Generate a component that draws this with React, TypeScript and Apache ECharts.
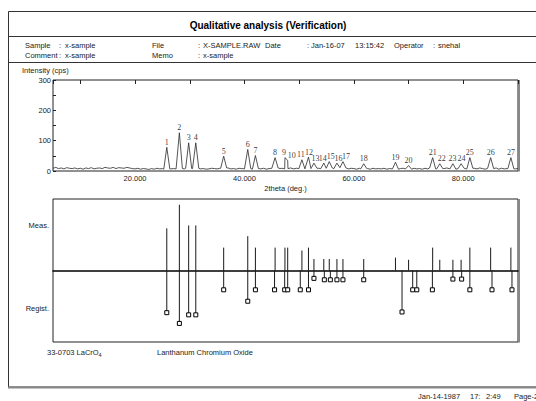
import React, { useEffect, useRef } from 'react';
import * as echarts from 'echarts';

// ---- data ----
const baselineStart = 5;
const baselineStep = 0.5;
const baselineCps = [
  9, 12, 8, 10, 7, 11, 9, 8, 10, 7,
  9, 6, 10, 8, 11, 7, 9, 10, 8, 12,
  10, 9, 12, 8, 11, 10, 9, 12, 10, 8,
  7, 9, 6, 8, 7, 5, 8, 6, 9, 7,
  8, 6, 9, 7, 8, 7, 6, 8, 7, 9,
  7, 8, 6, 9, 7, 8, 6, 7, 9, 8,
  7, 9, 6, 8, 10, 7, 8, 6, 9, 8,
  7, 9, 8, 6, 10, 8, 7, 9, 6, 8,
  9, 7, 10, 8, 9, 7, 8, 10, 7, 9,
  8, 10, 7, 9, 8, 11, 7, 9, 8, 10,
  9, 7, 10, 8, 9, 11, 8, 10, 7, 9,
  8, 6, 9, 7, 10, 8, 6, 9, 7, 8,
  7, 9, 6, 8, 7, 10, 6, 8, 9, 7,
  8, 6, 9, 7, 8, 6, 9, 7, 10, 8,
  7, 9, 6, 8, 10, 7, 9, 6, 8, 7,
  9, 7, 8, 6, 9, 7, 10, 8, 6, 9,
  7, 8, 10, 6, 9, 7, 8, 6, 9, 7,
  8,
];

const peakDeg = [25.8, 28.1, 29.8, 31.1, 36.2, 40.6, 42.0, 45.6, 47.4, 47.9, 50.5, 51.7, 52.7, 54.5, 55.5, 56.9, 58.0, 61.8, 67.6, 70.0, 74.4, 75.7, 78.1, 79.6, 81.2, 85.0, 88.7];
const peakCps = [78, 126, 93, 93, 49, 71, 51, 44, 44, 35, 37, 46, 26, 26, 31, 26, 31, 24, 29, 18, 44, 24, 24, 24, 44, 44, 44];
const measRel = [59, 92, 63, 63, 32, 48, 32, 32, 32, 32, 28, 32, 16, 16, 16, 16, 16, 16, 18, 15, 32, 15, 15, 15, 32, 32, 32];

const registDeg = [25.8, 28.1, 29.8, 31.1, 36.2, 40.6, 42.0, 45.5, 47.35, 47.9, 50.2, 51.7, 52.7, 54.6, 55.7, 56.9, 58.0, 61.8, 68.8, 70.75, 71.5, 74.35, 78.1, 79.7, 81.2, 85.25, 88.9];
const registRel = [59, 74, 62, 62, 27, 43, 27, 27, 27, 27, 27, 27, 11, 13, 13, 13, 13, 13, 58, 27, 27, 27, 12, 12, 27, 27, 27];

const xTickLabels = [20, 40, 60, 80];
const yTickLabels = [0, 100, 200, 300];

// small horizontal nudges (px) of crowded peak numbers, as in the reference
const labelNudge: Record<number, number> = { 8: -1, 9: 4, 10: -1, 11: 0.5, 12: 1.5, 13: -1, 14: 1.5, 15: 1.5, 16: 3, 21: 2, 22: -0.5, 23: 0.5 };

// ---- build the profile from baseline readings and peak readings ----
const PEAK_HALF = 0.55;
function buildProfile(): number[][] {
  const pts: number[][] = [];
  baselineCps.forEach((v, i) => {
    const d = baselineStart + i * baselineStep;
    if (!peakDeg.some((p) => Math.abs(p - d) < PEAK_HALF + 0.05)) pts.push([d, v]);
  });
  const near = (d: number) => {
    const idx = Math.max(0, Math.min(baselineCps.length - 1, Math.round((d - baselineStart) / baselineStep)));
    return baselineCps[idx];
  };
  peakDeg.forEach((p, i) => {
    pts.push([p - PEAK_HALF, near(p - PEAK_HALF)], [p, peakCps[i]], [p + PEAK_HALF, near(p + PEAK_HALF)]);
  });
  pts.sort((a, b) => a[0] - b[0]);
  return pts;
}

const SANS = '"Liberation Sans", Arial, sans-serif';
const SERIF = '"Liberation Serif", "Times New Roman", serif';
const INK = '#222';

const T = (text: string, x: number, y: number, extra: any = {}) => ({
  type: 'text',
  x,
  y,
  silent: true,
  style: {
    text,
    fill: INK,
    fontSize: 7.5,
    fontFamily: SANS,
    align: 'left',
    verticalAlign: 'middle',
    textAlign: 'left',
    textVerticalAlign: 'middle',
    ...extra,
  },
});
const L = (x1: number, y1: number, x2: number, y2: number, stroke = '#333', lineWidth = 1) => ({
  type: 'line',
  silent: true,
  shape: { x1, y1, x2, y2 },
  style: { stroke, lineWidth },
});

const stickRender = (color: string) => (params: any, api: any) => {
  const x = api.value(0);
  const v = api.value(1);
  const p0 = api.coord([x, 0]);
  const p1 = api.coord([x, v]);
  return {
    type: 'line',
    shape: { x1: p0[0], y1: p0[1], x2: p1[0], y2: p1[1] },
    style: { stroke: color, lineWidth: 1 },
  };
};

export default function App() {
  const ref = useRef<HTMLDivElement>(null);
  useEffect(() => {
    if (!ref.current) return;
    const chart = echarts.init(ref.current, null, { renderer: 'svg' });
    const option: any = {
      animation: false,
      backgroundColor: '#fff',
      textStyle: { fontFamily: SANS },
      grid: [
        { left: 53, top: 80, width: 465, height: 91, show: true, borderColor: INK, borderWidth: 1, backgroundColor: 'transparent' },
        { left: 53, top: 199, width: 465, height: 143, show: true, borderColor: INK, borderWidth: 1, backgroundColor: 'transparent' },
      ],
      xAxis: [
        {
          gridIndex: 0, type: 'value', min: 5, max: 90, minInterval: 20, maxInterval: 20,
          axisLine: { show: false }, axisTick: { show: false }, splitLine: { show: false },
          axisLabel: {
            color: INK, fontSize: 7.5, fontFamily: SANS, margin: 3,
            formatter: (v: number) => (xTickLabels.includes(Math.round(v)) && Math.abs(v - Math.round(v)) < 1e-6 ? v.toFixed(3) : ''),
          },
          name: '2theta (deg.)', nameLocation: 'middle', nameGap: 13,
          nameTextStyle: { color: INK, fontSize: 7.5, fontFamily: SANS, verticalAlign: 'top' },
        },
        {
          gridIndex: 0, type: 'value', position: 'top', min: 5, max: 90, minInterval: 10, maxInterval: 10,
          axisLine: { show: false },
          axisTick: { show: true, inside: true, length: 4, lineStyle: { color: INK, width: 1 } },
          axisLabel: { show: false }, splitLine: { show: false },
        },
        {
          gridIndex: 1, type: 'value', min: 5, max: 90,
          axisLine: { show: true, onZero: true, lineStyle: { color: '#000', width: 1.5 } },
          axisTick: { show: false }, axisLabel: { show: false }, splitLine: { show: false },
        },
      ],
      yAxis: [
        {
          gridIndex: 0, type: 'value', min: 0, max: 300, interval: 50,
          axisLine: { show: false },
          axisTick: { show: true, inside: true, length: 3, lineStyle: { color: INK } },
          splitLine: { show: false },
          axisLabel: {
            color: INK, fontSize: 7.5, fontFamily: SANS, margin: 2,
            formatter: (v: number) => (yTickLabels.includes(v) ? String(v) : ''),
          },
        },
        {
          gridIndex: 1, type: 'value', min: -100, max: 100,
          axisLine: { show: false }, axisTick: { show: false }, axisLabel: { show: false }, splitLine: { show: false },
        },
      ],
      series: [
        {
          type: 'line', xAxisIndex: 0, yAxisIndex: 0, data: buildProfile(),
          showSymbol: false, symbol: 'none', lineStyle: { color: '#2a2a2a', width: 0.8 }, silent: true,
        },
        {
          type: 'scatter', xAxisIndex: 0, yAxisIndex: 0, symbolSize: 0, silent: true,
          data: peakDeg.map((d, i) => ({
            value: [d, peakCps[i]],
            label: labelNudge[i] ? { offset: [labelNudge[i], 0] } : undefined,
          })),
          label: {
            show: true, position: 'top', distance: 1, color: '#000', fontSize: 8, fontFamily: SERIF,
            formatter: (p: any) => String(p.dataIndex + 1),
          },
        },
        {
          type: 'custom', xAxisIndex: 2, yAxisIndex: 1, silent: true,
          data: peakDeg.map((d, i) => [d, measRel[i]]),
          renderItem: stickRender('#1a1a1a'),
        },
        {
          type: 'custom', xAxisIndex: 2, yAxisIndex: 1, silent: true,
          data: registDeg.map((d, i) => [d, -registRel[i]]),
          renderItem: stickRender('#1a1a1a'),
        },
        {
          type: 'scatter', xAxisIndex: 2, yAxisIndex: 1, silent: true, symbol: 'rect', symbolSize: 4,
          data: registDeg.map((d, i) => [d, -registRel[i]]),
          itemStyle: { color: '#fff', borderColor: '#000', borderWidth: 1, opacity: 1 },
          z: 5,
        },
      ],
      graphic: [
        { type: 'rect', silent: true, shape: { x: 8.5, y: 11.5, width: 620, height: 375.5 }, style: { fill: 'none', stroke: '#333', lineWidth: 1 } },
        L(8, 36.5, 540, 36.5),
        L(8, 62.5, 540, 62.5),
        L(8, 387.5, 540, 387.5, '#888', 2),
        L(519, 80, 519, 171.5, '#888', 2),
        L(519, 199, 519, 342.5, '#888', 2),
        T('Qualitative analysis (Verification)', 268, 25, { fontSize: 10, fontWeight: 'bold', fill: '#000', align: 'center', textAlign: 'center' }),
        T('Sample', 25, 45),
        T(':', 59, 45), T('x-sample', 65, 45),
        T('File', 152, 45),
        T(':', 198, 45), T('X-SAMPLE.RAW', 203, 45),
        T('Date', 265, 45),
        T(':', 307, 45), T('Jan-16-07', 311, 45), T('13:15:42', 355, 45),
        T('Operator', 394, 45),
        T(':', 433, 45), T('snehal', 438, 45),
        T('Comment', 25, 55),
        T(':', 59, 55), T('x-sample', 65, 55),
        T('Memo', 152, 55),
        T(':', 198, 55), T('x-sample', 203, 55),
        T('Intensity (cps)', 22, 70),
        T('Meas.', 49, 225, { align: 'right', textAlign: 'right' }),
        T('Regist.', 49, 308, { align: 'right', textAlign: 'right' }),
        T('33-0703 LaCrO', 47, 352),
        T('4', 98.5, 355, { fontSize: 5.5 }),
        T('Lanthanum Chromium Oxide', 157, 352),
        T('Jan-14-1987', 418, 396),
        T('17:', 470, 396),
        T('2:49', 486, 396),
        T('Page-2', 514, 396),
      ],
    };
    chart.setOption(option);
    return () => chart.dispose();
  }, []);
  return <div ref={ref} style={{ position: 'fixed', left: 0, top: 0, width: 536, height: 401 }} />;
}
